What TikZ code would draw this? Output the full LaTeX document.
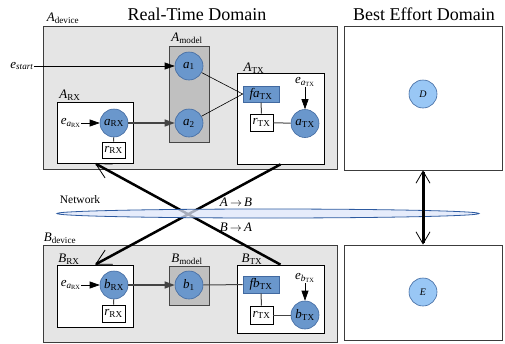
\documentclass[tikz,border=0pt]{standalone}
\usepackage{fontspec}
\setmainfont{Liberation Serif}
\usetikzlibrary{arrows.meta,shapes.geometric}
\definecolor{devfill}{RGB}{229,229,229}
\definecolor{devdraw}{RGB}{60,60,60}
\definecolor{modfill}{RGB}{192,192,192}
\definecolor{modraw}{RGB}{70,70,70}
\definecolor{circfill}{RGB}{106,151,204}
\definecolor{circdraw}{RGB}{65,105,160}
\definecolor{lightcirc}{RGB}{153,199,245}
\definecolor{netfill}{RGB}{222,230,250}
\definecolor{netdraw}{RGB}{45,90,160}
\definecolor{linegray}{RGB}{68,68,68}
\newcommand\sbx[1]{\textsubscript{#1}}
\begin{document}
\begin{tikzpicture}[x=1pt,y=-1pt,
  devbox/.style={draw=devdraw,fill=devfill,line width=0.8pt,inner sep=0pt},
  bebox/.style={draw=devdraw,fill=white,line width=0.8pt,inner sep=0pt},
  modbox/.style={draw=modraw,fill=modfill,line width=0.8pt,inner sep=0pt},
  subbox/.style={draw=black,fill=white,line width=0.7pt,inner sep=0pt},
  circ/.style={circle,draw=circdraw,fill=circfill,minimum size=28pt,inner sep=0pt,line width=0.6pt,font=\fontsize{13}{13}\selectfont},
  lcirc/.style={circle,draw=circdraw,fill=lightcirc,minimum size=28pt,inner sep=0pt,line width=0.6pt,font=\fontsize{10}{10}\selectfont\itshape},
  frect/.style={draw=circdraw,fill=circfill,minimum width=36pt,minimum height=16pt,inner sep=0pt,line width=0.6pt,font=\fontsize{13}{13}\selectfont},
  rbox/.style={draw=black,fill=white,minimum width=23pt,minimum height=17pt,inner sep=0pt,line width=0.6pt,font=\fontsize{13}{13}\selectfont},
  lab/.style={inner sep=0pt,font=\fontsize{13}{13}\selectfont},
  title/.style={inner sep=0pt,font=\fontsize{18}{18}\selectfont},
  thinarr/.style={-{Triangle[length=10pt,width=7pt]},line width=0.6pt},
  grayarr/.style={-{Triangle[length=10pt,width=7pt]},draw=linegray,line width=1.2pt},
  thinline/.style={line width=0.6pt},
  grayline/.style={draw=linegray,line width=1pt},
  bigarr/.style={-{Straight Barb[length=15pt,width=16pt,line width=0.8pt]},line width=2.5pt},
  dblarr/.style={{Straight Barb[length=12pt,width=14pt,line width=0.8pt]}-{Straight Barb[length=12pt,width=14pt,line width=0.8pt]},line width=3pt}
]
\useasboundingbox (0,0) rectangle (505,343);
% titles
\node[title] (rtd) at (197,14) {Real-Time Domain};
\node[title] (bed) at (424,14) {Best Effort Domain};
% big boxes
\node[devbox,minimum width=294pt,minimum height=143pt] (Adev) at (190,97.5) {};
\node[bebox,minimum width=158pt,minimum height=144pt] (BE1) at (423,98) {};
\node[devbox,minimum width=294pt,minimum height=97pt] (Bdev) at (190,293.5) {};
\node[bebox,minimum width=158pt,minimum height=95.5pt] (BE2) at (423,292.75) {};
\node[lab] (AdevL) at (63,18) {\textit{A}\sbx{device}};
\node[lab] (BdevL) at (60,238) {\textit{B}\sbx{device}};
% A side
\node[modbox,minimum width=40pt,minimum height=96pt] (Amod) at (189,94) {};
\node[subbox,minimum width=76pt,minimum height=61pt] (ARX) at (95,132.5) {};
\node[subbox,minimum width=87pt,minimum height=91pt] (ATX) at (280.5,118.5) {};
\node[lab] (AmodL) at (187,38) {\textit{A}\sbx{model}};
\node[lab] (ATXL) at (254,68) {\textit{A}\sbx{TX}};
\node[lab] (ARXL) at (70,95) {\textit{A}\sbx{RX}};
\node[circ] (a1) at (189,66) {\textit{a}\sbx{1}};
\node[circ] (a2) at (189,123) {\textit{a}\sbx{2}};
\node[circ] (aRX) at (114,123) {\textit{a}\sbx{RX}};
\node[rbox,minimum height=16pt] (rRXa) at (113.5,150) {\textit{r}\sbx{RX}};
\node[frect] (faTX) at (261,94) {\textit{fa}\sbx{TX}};
\node[rbox] (rTXa) at (261.5,122.5) {\textit{r}\sbx{TX}};
\node[circ] (aTX) at (305,123.5) {\textit{a}\sbx{TX}};
\node[lab] (estart) at (22,66) {\textit{e}\sbx{\textit{start}}};
\node[lab] (eaRXa) at (71,123) {\textit{e}\sbx{\textit{a}\sbx{RX}}};
\node[lab] (eaTX) at (305,82) {\textit{e}\sbx{\textit{a}\sbx{TX}}};
\draw[thinarr] (estart) -- (a1);
\draw[thinarr] (eaRXa) -- (aRX);
\draw[grayarr] (aRX) -- (a2);
\draw[grayline] (aRX) -- (rRXa);
\draw[thinline] (a1) -- (faTX.west);
\draw[thinline] (a2) -- (faTX.west);
\draw[grayline] (faTX) -- (rTXa);
\draw[grayline] (rTXa) -- (aTX);
\draw[thinarr] (eaTX) -- (aTX);
% B side
\node[modbox,minimum width=40pt,minimum height=39pt] (Bmod) at (189,285.5) {};
\node[subbox,minimum width=76pt,minimum height=62pt] (BRX) at (95,296) {};
\node[subbox,minimum width=87pt,minimum height=68pt] (BTX) at (280.5,299) {};
\node[lab] (BmodL) at (187,259) {\textit{B}\sbx{model}};
\node[lab] (BTXL) at (252,259) {\textit{B}\sbx{TX}};
\node[lab] (BRXL) at (69,259) {\textit{B}\sbx{RX}};
\node[circ] (b1) at (189,285) {\textit{b}\sbx{1}};
\node[circ] (bRX) at (114,285) {\textit{b}\sbx{RX}};
\node[rbox] (rRXb) at (113.5,313.5) {\textit{r}\sbx{RX}};
\node[frect,minimum height=17pt] (fbTX) at (261,284.5) {\textit{fb}\sbx{TX}};
\node[rbox,minimum height=18pt] (rTXb) at (261.5,315) {\textit{r}\sbx{TX}};
\node[circ] (bTX) at (305,315) {\textit{b}\sbx{TX}};
\node[lab] (eaRXb) at (71,285) {\textit{e}\sbx{\textit{a}\sbx{RX}}};
\node[lab] (ebTX) at (305,278) {\textit{e}\sbx{\textit{b}\sbx{TX}}};
\draw[thinarr] (eaRXb) -- (bRX);
\draw[grayarr] (bRX) -- (b1);
\draw[grayline] (bRX) -- (rRXb);
\draw[grayline] (b1) -- (fbTX);
\draw[grayline] (fbTX) -- (rTXb);
\draw[grayline] (rTXb) -- (bTX);
\draw[thinarr] (ebTX) -- (bTX);
% best effort
\node[lcirc] (D) at (423,94) {D};
\node[lcirc] (E) at (423,292) {E};
% network
\draw[bigarr] (ATX.south) -- (BRX.north);
\draw[bigarr] (BTX.north) -- (ARX.south);
\node[ellipse,draw=netdraw,fill=netfill,fill opacity=0.75,line width=0.8pt,minimum width=422pt,minimum height=9pt,inner sep=0pt] (net) at (268,213.5) {};
\draw[dblarr] (BE1.south) -- (BE2.north);
\node[lab,font=\fontsize{11.5}{11.5}\selectfont] (netL) at (80,200) {Network};
\node[lab] (ab) at (236,202) {\textit{A}\,$\rightarrow$\,\textit{B}};
\node[lab] (ba) at (236,227) {\textit{B}\,$\rightarrow$\,\textit{A}};
\end{tikzpicture}
\end{document}
